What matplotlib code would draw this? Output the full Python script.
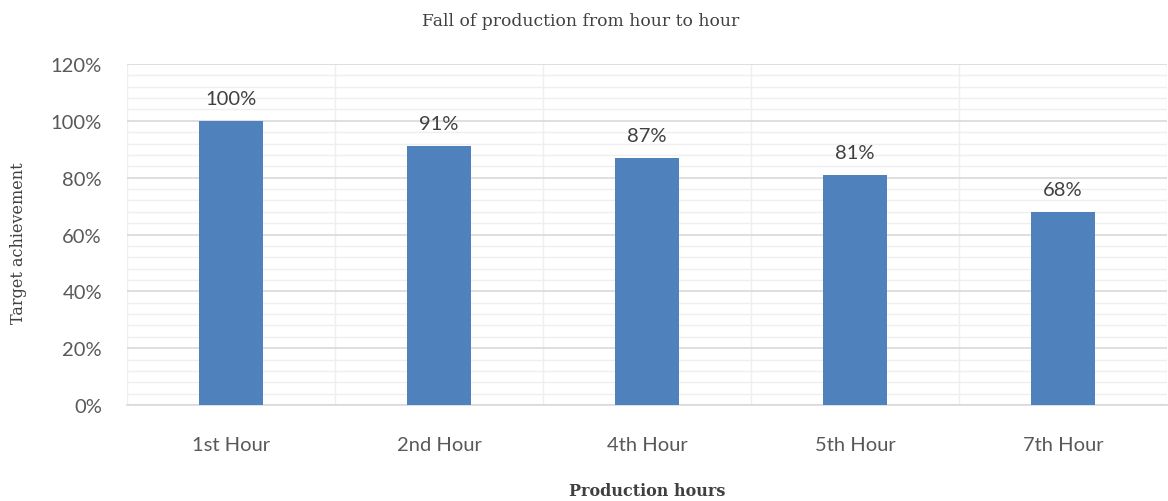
import numpy as np
import matplotlib
matplotlib.use("Agg")
import matplotlib.pyplot as plt
from matplotlib.ticker import MultipleLocator, FuncFormatter

# chart data
hours = ["1st Hour", "2nd Hour", "4th Hour", "5th Hour", "7th Hour"]
achievement = [100, 91, 87, 81, 68]

fig = plt.figure(figsize=(11.68, 5.02), dpi=100)
ax = fig.add_axes([0.1087, 0.1912, 0.8905, 0.6793])

x = np.arange(len(hours))
bars = ax.bar(x, achievement, width=0.31, color="#4f81bd", zorder=3)

# data labels above bars
for xi, v in zip(x, achievement):
    ax.text(xi, v + 5, f"{v}%", ha="center", va="bottom", fontsize=14.5,
            family="Lato", color="#404040", zorder=4)

ax.set_xlim(-0.5, len(hours) - 0.5)
ax.set_ylim(0, 120)

ax.yaxis.set_major_locator(MultipleLocator(20))
ax.yaxis.set_minor_locator(MultipleLocator(4))
ax.yaxis.set_major_formatter(FuncFormatter(lambda v, p: f"{v:.0f}%"))
ax.set_xticks(x)
ax.set_xticklabels(hours)
ax.xaxis.set_minor_locator(MultipleLocator(0.5))

ax.grid(which="major", axis="y", color="#d9d9d9", linewidth=1.2, zorder=0)
ax.grid(which="minor", axis="y", color="#efefef", linewidth=1.0, zorder=0)
ax.grid(which="minor", axis="x", color="#efefef", linewidth=1.0, zorder=0)

ax.tick_params(which="both", length=0)
ax.tick_params(axis="y", labelsize=14.5, labelcolor="#595959", pad=18)
ax.tick_params(axis="x", labelsize=14.5, labelcolor="#595959", pad=22)
for lbl in ax.get_xticklabels() + ax.get_yticklabels():
    lbl.set_family("Lato")

for side in ["top", "right", "left"]:
    ax.spines[side].set_visible(False)
ax.spines["bottom"].set_color("#d9d9d9")
ax.spines["bottom"].set_linewidth(1.2)

fig.text(0.497, 0.957, "Fall of production from hour to hour", ha="center",
         va="center", fontsize=12.3, family="DejaVu Serif", color="#404040")
fig.text(0.016, 0.516, "Target achievement", rotation=90, ha="center",
         va="center", fontsize=11.5, family="DejaVu Serif", color="#404040")
fig.text(0.554, 0.02, "Production hours", ha="center", va="center",
         fontsize=11.5, family="DejaVu Serif", weight="bold", color="#404040")

fig.savefig("out.png", dpi=100)
